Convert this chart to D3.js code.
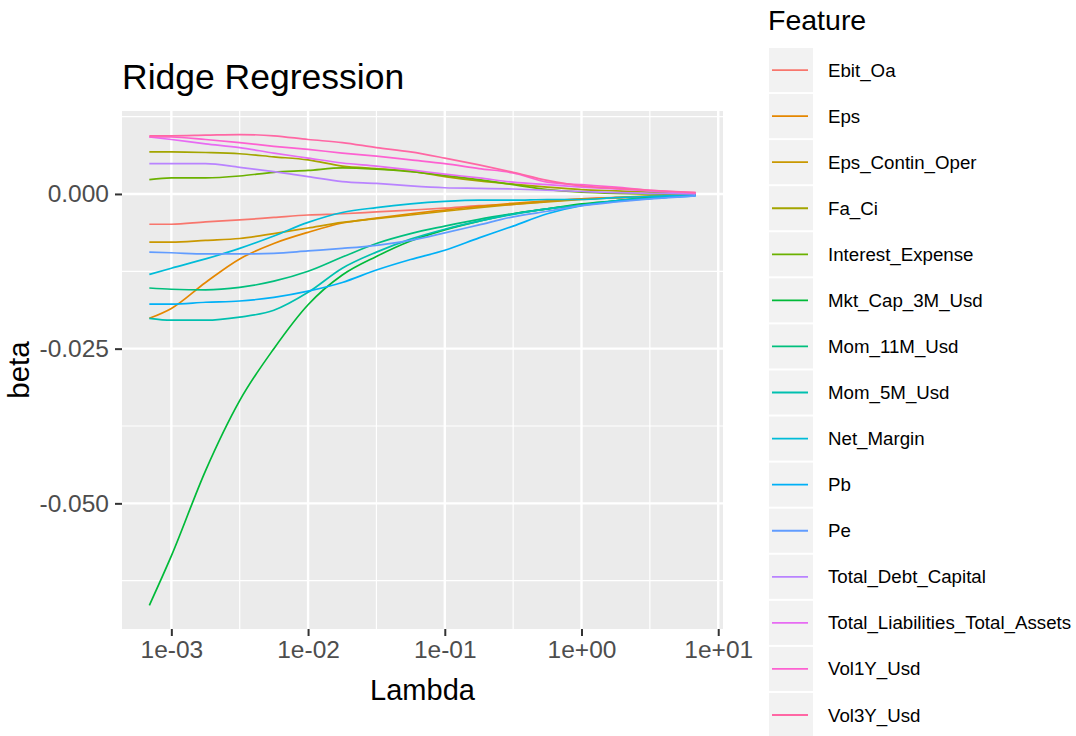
<!DOCTYPE html>
<html>
<head>
<meta charset="utf-8">
<script src="https://cdn.jsdelivr.net/npm/d3@7"></script>
<style>
  body { margin: 0; background: #fff; }
  svg text { font-family: "Liberation Sans", Arial, sans-serif; }
</style>
</head>
<body>
<svg id="chart" width="1076" height="736"></svg>
<script>
// ridge path: lambda grid and coefficient per feature
const lambda = [0.00069, 0.001, 0.00178, 0.00316, 0.00562, 0.01, 0.0178, 0.0316, 0.0562,
  0.1, 0.178, 0.316, 0.562, 1, 1.78, 3.16, 6.84];

const features = ['Ebit_Oa', 'Eps', 'Eps_Contin_Oper', 'Fa_Ci', 'Interest_Expense',
  'Mkt_Cap_3M_Usd', 'Mom_11M_Usd', 'Mom_5M_Usd', 'Net_Margin', 'Pb', 'Pe',
  'Total_Debt_Capital', 'Total_Liabilities_Total_Assets', 'Vol1Y_Usd', 'Vol3Y_Usd'];

const ebitOa = [-0.0049, -0.0049, -0.0045, -0.0042, -0.0038, -0.0034, -0.0032, -0.0029, -0.0026, -0.0023, -0.0019, -0.0017, -0.0012, -0.0008, -0.0006, -0.0005, -0.0002];
const eps = [-0.0201, -0.0185, -0.0143, -0.0105, -0.0080, -0.0062, -0.0047, -0.0039, -0.0032, -0.0026, -0.0020, -0.0015, -0.0011, -0.0008, -0.0006, -0.0003, -0.0002];
const epsContinOper = [-0.0078, -0.0078, -0.0075, -0.0072, -0.0064, -0.0055, -0.0046, -0.0040, -0.0034, -0.0028, -0.0022, -0.0017, -0.0013, -0.0009, -0.0006, -0.0004, -0.0002];
const faCi = [0.0068, 0.0068, 0.0067, 0.0065, 0.0060, 0.0055, 0.0045, 0.0041, 0.0037, 0.0028, 0.0021, 0.0016, 0.0011, 0.0007, 0.0005, 0.0003, 0.0001];
const interestExpense = [0.0023, 0.0026, 0.0026, 0.0029, 0.0035, 0.0038, 0.0042, 0.0040, 0.0036, 0.0030, 0.0023, 0.0015, 0.0007, 0.0003, 0.0001, 0.0000, -0.0001];
const mktCap3M = [-0.0665, -0.0585, -0.0447, -0.0334, -0.0250, -0.0179, -0.0131, -0.0101, -0.0076, -0.0058, -0.0044, -0.0032, -0.0024, -0.0016, -0.0011, -0.0006, -0.0002];
const mom11M = [-0.0152, -0.0154, -0.0155, -0.0151, -0.0141, -0.0125, -0.0102, -0.0080, -0.0064, -0.0052, -0.0041, -0.0032, -0.0024, -0.0018, -0.0011, -0.0007, -0.0002];
const mom5M = [-0.0201, -0.0204, -0.0204, -0.0199, -0.0188, -0.0159, -0.0120, -0.0094, -0.0073, -0.0057, -0.0044, -0.0033, -0.0024, -0.0018, -0.0011, -0.0007, -0.0002];
const netMargin = [-0.0130, -0.0120, -0.0105, -0.0088, -0.0068, -0.0046, -0.0030, -0.0022, -0.0016, -0.0012, -0.0010, -0.0010, -0.0009, -0.0009, -0.0006, -0.0004, -0.0002];
const pb = [-0.0178, -0.0178, -0.0175, -0.0173, -0.0167, -0.0157, -0.0143, -0.0123, -0.0106, -0.0091, -0.0071, -0.0052, -0.0032, -0.0019, -0.0012, -0.0007, -0.0003];
const pe = [-0.0094, -0.0095, -0.0097, -0.0097, -0.0096, -0.0092, -0.0088, -0.0083, -0.0075, -0.0063, -0.0050, -0.0037, -0.0028, -0.0019, -0.0013, -0.0008, -0.0003];
const totalDebtCapital = [0.0049, 0.0049, 0.0049, 0.0043, 0.0036, 0.0028, 0.0020, 0.0017, 0.0013, 0.0010, 0.0009, 0.0008, 0.0006, 0.0004, 0.0002, 0.0001, 0.0000];
const totalLiabAssets = [0.0092, 0.0088, 0.0081, 0.0075, 0.0066, 0.0058, 0.0050, 0.0045, 0.0039, 0.0032, 0.0026, 0.0019, 0.0015, 0.0011, 0.0008, 0.0005, 0.0001];
const vol1Y = [0.0092, 0.0092, 0.0088, 0.0083, 0.0077, 0.0072, 0.0066, 0.0061, 0.0055, 0.0049, 0.0041, 0.0034, 0.0019, 0.0015, 0.0011, 0.0006, 0.0002];
const vol3Y = [0.0094, 0.0094, 0.0095, 0.0096, 0.0094, 0.0088, 0.0083, 0.0075, 0.0068, 0.0058, 0.0047, 0.0035, 0.0022, 0.0013, 0.0009, 0.0006, 0.0002];

const betas = [ebitOa, eps, epsContinOper, faCi, interestExpense, mktCap3M, mom11M, mom5M,
  netMargin, pb, pe, totalDebtCapital, totalLiabAssets, vol1Y, vol3Y];

const xTicks = [1e-3, 1e-2, 1e-1, 1, 10];
const xMinor = [Math.pow(10, -2.5), Math.pow(10, -1.5), Math.pow(10, -0.5), Math.pow(10, 0.5)];
const yTicks = [0, -0.025, -0.05];
const yMinor = [0.0125, -0.0125, -0.0375, -0.0625];

// ggplot default hue palette, 15 levels
const palette = ['#F8766D', '#E58700', '#C99800', '#A3A500', '#6BB100', '#00BA38', '#00BF7D',
  '#00C0AF', '#00BCD8', '#00B0F6', '#619CFF', '#B983FF', '#E76BF3', '#FD61D1', '#FF67A4'];

const series = features.map((f, i) => ({
  name: f,
  values: lambda.map((l, j) => ({ lambda: l, beta: betas[i][j] })),
}));

const svg = d3.select('#chart');
const margin = { top: 111, left: 122, right: 353, bottom: 107 };
const width = 1076 - margin.left - margin.right;
const height = 736 - margin.top - margin.bottom;

// scales with ggplot's 5% expansion
const lx = d3.extent(lambda).map(Math.log10);
const padX = (lx[1] - lx[0]) * 0.05;
const x = d3.scaleLog()
  .domain([Math.pow(10, lx[0] - padX), Math.pow(10, lx[1] + padX)])
  .range([0, width]);

const yExt = d3.extent(betas.flat());
const padY = (yExt[1] - yExt[0]) * 0.05;
const y = d3.scaleLinear()
  .domain([yExt[0] - padY, yExt[1] + padY])
  .range([height, 0]);

const color = d3.scaleOrdinal().domain(features).range(palette);

const g = svg.append('g').attr('transform', `translate(${margin.left},${margin.top})`);

g.append('rect').attr('width', width).attr('height', height).attr('fill', '#EBEBEB');

// grid
g.selectAll('.xminor').data(xMinor).join('line')
  .attr('x1', d => x(d)).attr('x2', d => x(d)).attr('y1', 0).attr('y2', height)
  .attr('stroke', '#fff').attr('stroke-width', 1.2);
g.selectAll('.yminor').data(yMinor).join('line')
  .attr('y1', d => y(d)).attr('y2', d => y(d)).attr('x1', 0).attr('x2', width)
  .attr('stroke', '#fff').attr('stroke-width', 1.2);
g.selectAll('.xmajor').data(xTicks).join('line')
  .attr('x1', d => x(d)).attr('x2', d => x(d)).attr('y1', 0).attr('y2', height)
  .attr('stroke', '#fff').attr('stroke-width', 2.4);
g.selectAll('.ymajor').data(yTicks).join('line')
  .attr('y1', d => y(d)).attr('y2', d => y(d)).attr('x1', 0).attr('x2', width)
  .attr('stroke', '#fff').attr('stroke-width', 2.4);

// lines
const line = d3.line()
  .x(d => x(d.lambda))
  .y(d => y(d.beta))
  .curve(d3.curveMonotoneX);

g.selectAll('.beta-line').data(series).join('path')
  .attr('class', 'beta-line')
  .attr('fill', 'none')
  .attr('stroke', d => color(d.name))
  .attr('stroke-width', 1.7)
  .attr('d', d => line(d.values));

// axes
const fmtX = d => {
  const e = Math.round(Math.log10(d));
  return '1e' + (e < 0 ? '-' : '+') + String(Math.abs(e)).padStart(2, '0');
};

const xAxis = g.append('g')
  .attr('transform', `translate(0,${height})`)
  .call(d3.axisBottom(x).tickValues(xTicks).tickFormat(fmtX).tickSize(7).tickPadding(5));

const yAxis = g.append('g')
  .call(d3.axisLeft(y).tickValues(yTicks).tickFormat(d => d.toFixed(3)).tickSize(7).tickPadding(6));

[xAxis, yAxis].forEach(a => {
  a.select('.domain').remove();
  a.selectAll('.tick line').attr('stroke', '#333').attr('stroke-width', 2);
  a.selectAll('.tick text').attr('fill', '#4D4D4D').attr('font-size', '24.5px')
    .style('font-family', '"Liberation Sans", Arial, sans-serif');
});

// titles
svg.append('text')
  .attr('x', margin.left)
  .attr('y', 89)
  .attr('font-size', '35.5px')
  .attr('fill', '#000')
  .text('Ridge Regression');

svg.append('text')
  .attr('x', margin.left + width / 2)
  .attr('y', 700)
  .attr('text-anchor', 'middle')
  .attr('font-size', '29px')
  .text('Lambda');

svg.append('text')
  .attr('transform', `translate(29,${margin.top + height / 2}) rotate(-90)`)
  .attr('text-anchor', 'middle')
  .attr('font-size', '29.5px')
  .text('beta');

// legend
const legend = svg.append('g').attr('transform', 'translate(768,0)');

legend.append('text')
  .attr('x', 0)
  .attr('y', 30)
  .attr('font-size', '28.5px')
  .text('Feature');

const keyStep = 46.07;
const item = legend.selectAll('.key').data(features).join('g')
  .attr('class', 'key')
  .attr('transform', (d, i) => `translate(0,${48 + i * keyStep})`);

item.append('rect')
  .attr('x', 1).attr('y', 0)
  .attr('width', 44).attr('height', keyStep - 2)
  .attr('fill', '#F2F2F2');

item.append('line')
  .attr('x1', 4).attr('x2', 40)
  .attr('y1', (keyStep - 2) / 2).attr('y2', (keyStep - 2) / 2)
  .attr('stroke', d => color(d))
  .attr('stroke-width', 1.8);

item.append('text')
  .attr('x', 60)
  .attr('y', (keyStep - 2) / 2)
  .attr('dy', '0.35em')
  .attr('font-size', '18.7px')
  .attr('fill', '#000')
  .text(d => d);
</script>
</body>
</html>
